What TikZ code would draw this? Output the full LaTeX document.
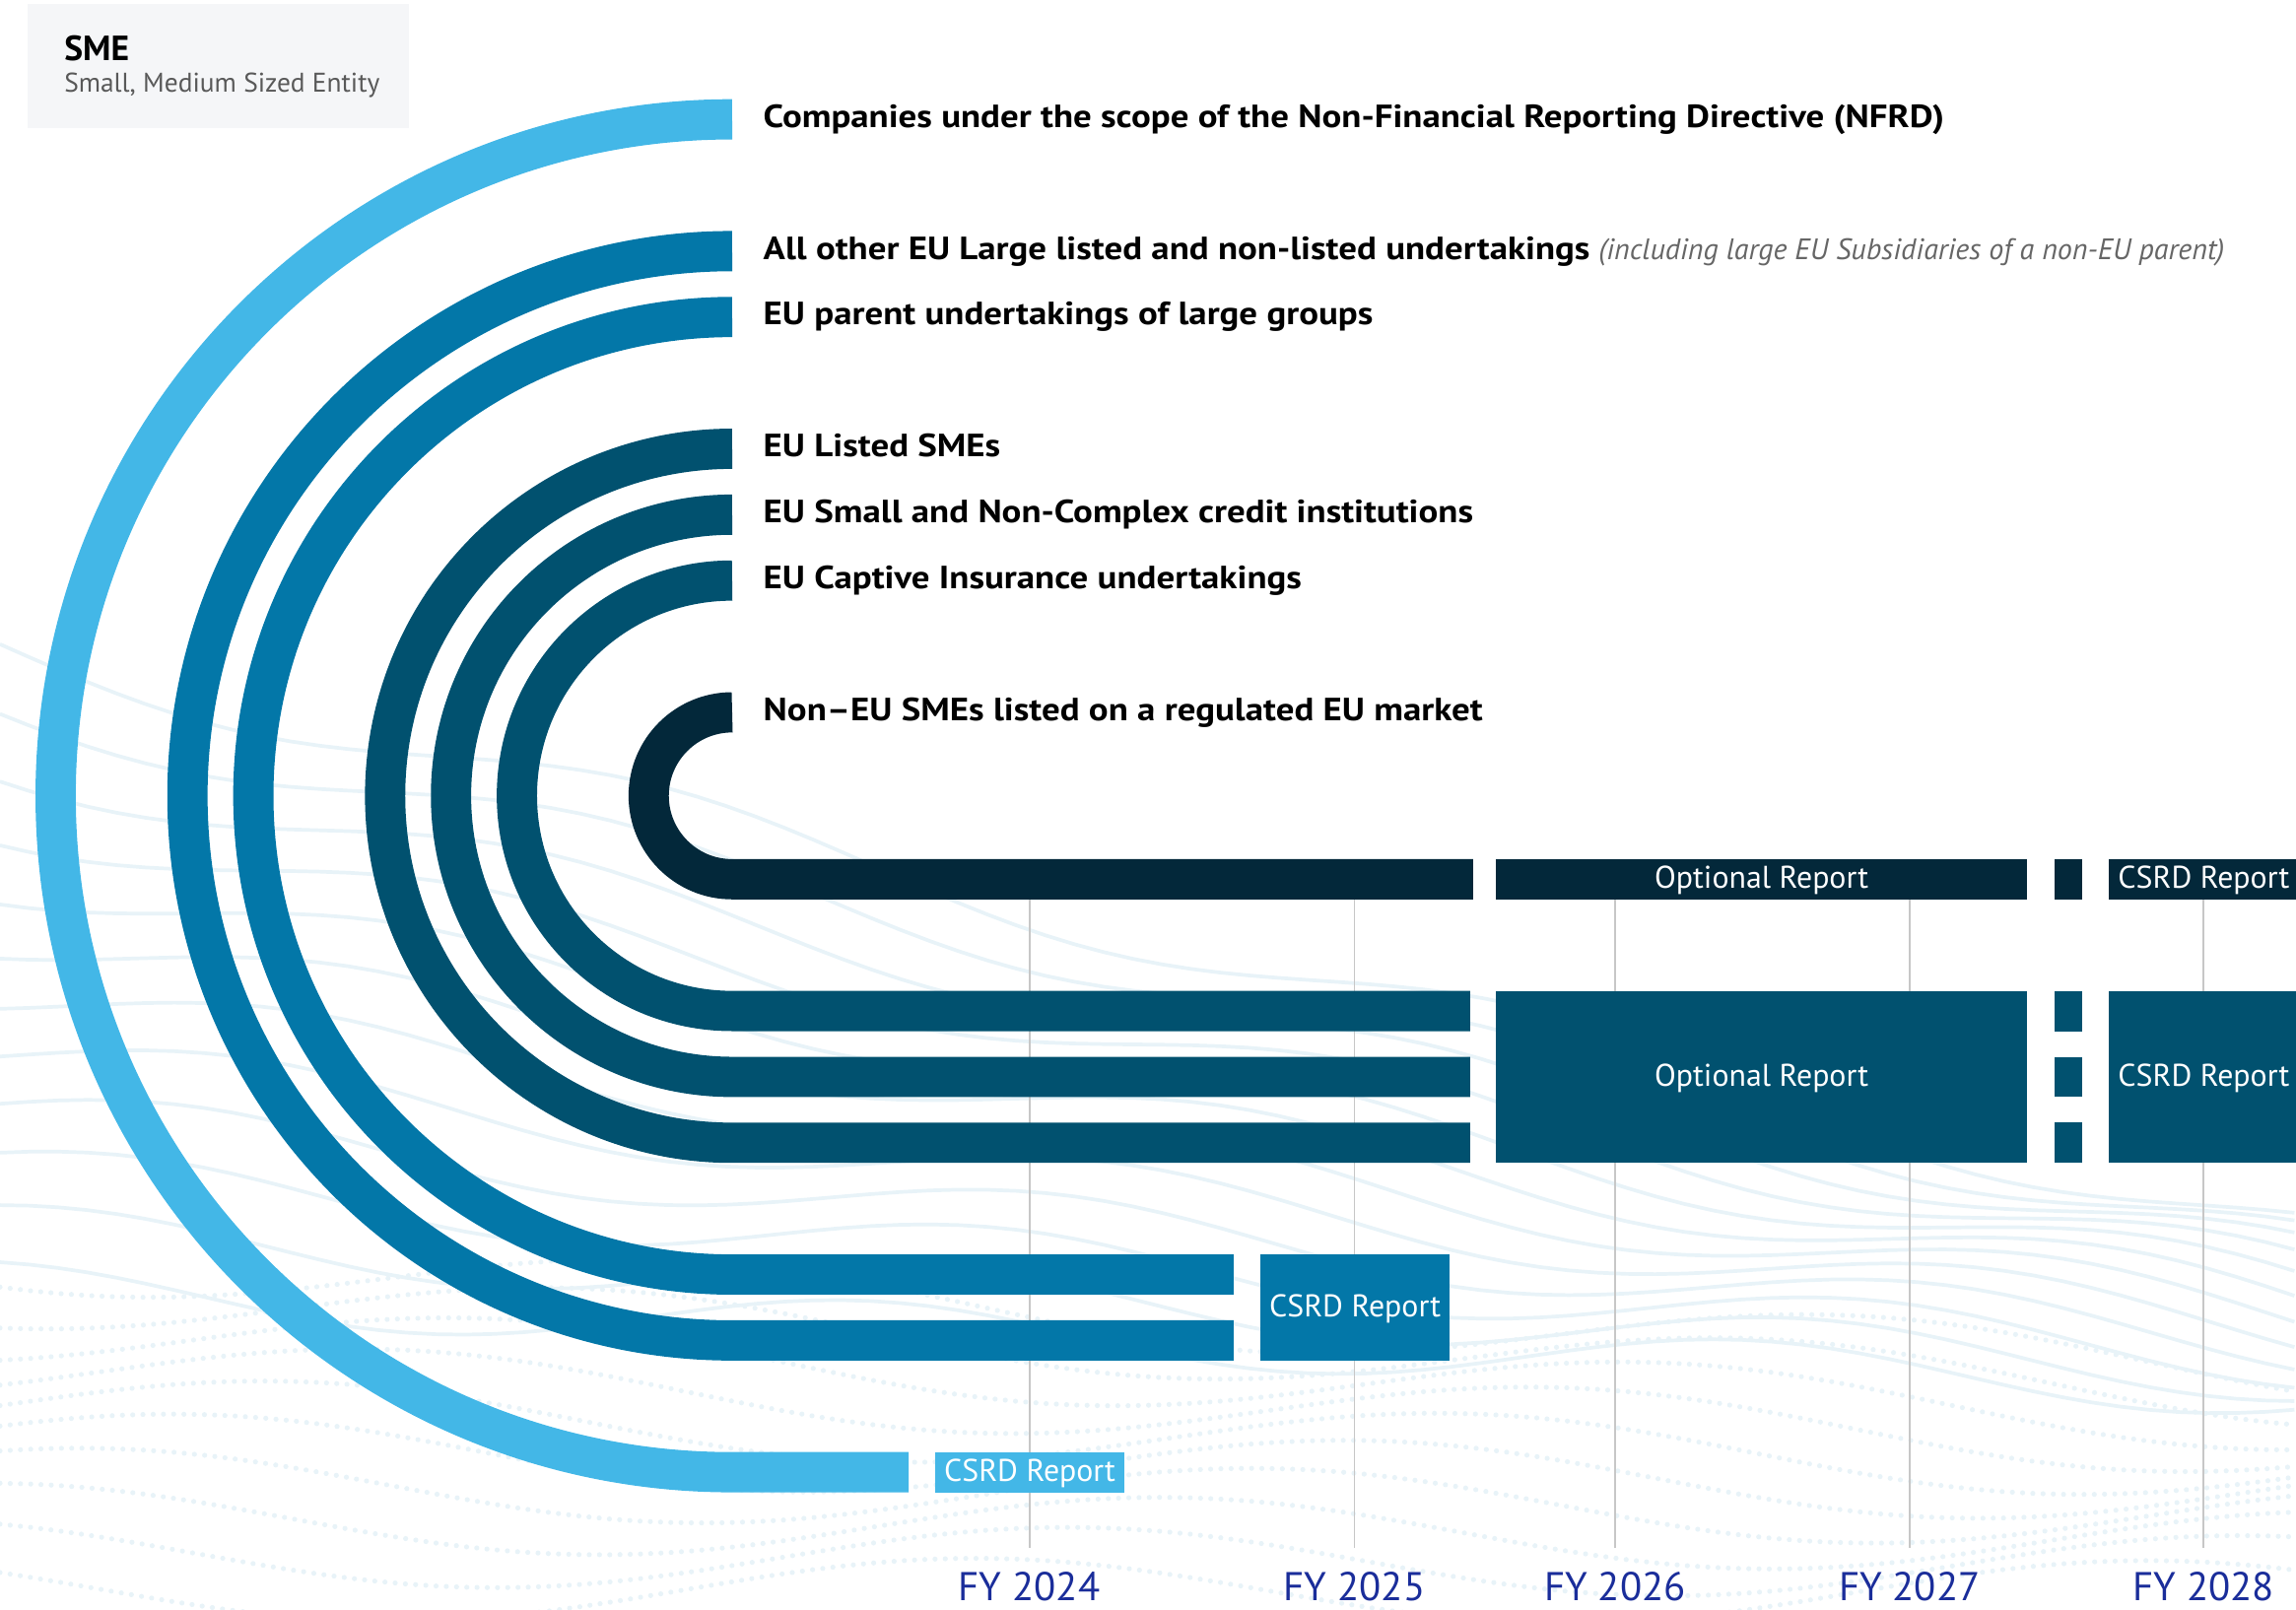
\documentclass[tikz,border=0pt]{standalone}
\usepackage{fontspec}
\setmainfont{PT Sans}
\newfontfamily\namefont[FakeStretch=1.13, Ligatures=TeX]{PT Sans}
\usepackage{tikz}
\usepackage{xcolor}
\usetikzlibrary{positioning}

\definecolor{nfrdblue}{HTML}{43B7E7}
\definecolor{largeblue}{HTML}{0377A8}
\definecolor{smeteal}{HTML}{01516F}
\definecolor{noneudark}{HTML}{03283A}
\definecolor{fyblue}{HTML}{1A2D9A}
\definecolor{wavecol}{HTML}{E8F3F8}
\definecolor{smegray}{HTML}{F5F6F8}

\tikzset{
  band/.style={line width=0.55cm},
  wave/.style={draw=wavecol, line width=0.05cm},
  dotwave/.style={draw=wavecol, line width=0.07cm, line cap=round, dash pattern=on 0pt off 0.14cm},
  yearline/.style={draw=black!22, line width=0.025cm},
  groupname/.style={anchor=base west, inner sep=0pt, font=\namefont\fontsize{12.5}{14}\selectfont\bfseries},
  groupnote/.style={anchor=base west, inner sep=0pt, text=black!60, font=\fontsize{11.5}{13}\selectfont\itshape},
  reportbox/.style={inner sep=0pt, text=white, text height=1.4ex, text depth=0pt,
                    font=\fontsize{12.2}{13}\selectfont, minimum height=0.55cm},
  stub/.style={inner sep=0pt, minimum width=0.38cm, minimum height=0.55cm},
  yearlabel/.style={anchor=base, inner sep=0pt, text=fyblue, font=\fontsize{15.6}{17}\selectfont}
}

\begin{document}
\begin{tikzpicture}[x=0.02cm, y=-0.02cm]
  \useasboundingbox (0,0) rectangle (1568,1099);
  \clip (0,0) rectangle (1568,1099);

  % Background waves
  \foreach \i in {0,...,11} {
    \draw[wave] plot[domain=0:1, samples=80]
      ({1568*\x}, {(440+40*\i)*(1-\x) + (840+10*\i)*\x + 18*sin(940*\x+25*\i)});
  }
  \foreach \i in {0,...,9} {
    \draw[dotwave] plot[domain=0:1, samples=80]
      ({1568*\x}, {(860+25*\i)*(1-\x) + (935+17*\i)*\x + 22*sin(705*\x+30*\i+60)});
  }

  % Legend box
  \fill[smegray] (19,3) rectangle (279,87.5);
  \node[anchor=base west, inner sep=0pt, font=\fontsize{13.6}{15}\selectfont\bfseries] (sme) at (43.6,41.5) {SME};
  \node[anchor=base west, inner sep=0pt, text=black!65, font=\fontsize{10.5}{12}\selectfont] (smefull) at (43.6,62.8) {Small, Medium Sized Entity};

  % Year lines
  \foreach \xx/\yr in {703/2024, 925/2025, 1103/2026, 1304/2027, 1505/2028} {
    \draw[yearline] (\xx,587) -- (\xx,1057);
    \node[yearlabel] (fy\yr) at (\xx,1093.5) {FY \yr};
  }

  % Centre of the arcs
  \coordinate (c) at (500,543.5);

  % NFRD companies
  \draw[band, nfrdblue] (500,81.5) arc[start angle=270, end angle=90, radius=462] -- (620.5,1005.5);
  % large undertakings
  \draw[band, largeblue] (500,171.5) arc[start angle=270, end angle=90, radius=372] -- (842.5,915.5);
  \draw[band, largeblue] (500,216.5) arc[start angle=270, end angle=90, radius=327] -- (842.5,870.5);
  % listed SMEs, credit institutions, captive insurance
  \draw[band, smeteal] (500,306.5) arc[start angle=270, end angle=90, radius=237] -- (1004,780.5);
  \draw[band, smeteal] (500,351.5) arc[start angle=270, end angle=90, radius=192] -- (1004,735.5);
  \draw[band, smeteal] (500,396.5) arc[start angle=270, end angle=90, radius=147] -- (1004,690.5);
  % non-EU SMEs
  \draw[band, noneudark] (500,486.5) arc[start angle=270, end angle=90, radius=57] -- (1006,600.5);

  % Report boxes
  \node[reportbox, fill=nfrdblue, minimum width=2.59cm] (csrdnfrd) at (703.3,1005.5) {CSRD Report};
  \node[reportbox, fill=largeblue, minimum width=2.59cm, minimum height=1.45cm] (csrdlarge) at (925.4,893) {CSRD Report};
  \node[reportbox, fill=smeteal, minimum width=7.26cm, minimum height=2.35cm] (optsme) at (1203,735.5) {Optional Report};
  \node[reportbox, fill=smeteal, minimum width=2.6cm, minimum height=2.35cm] (csrdsme) at (1505,735.5) {CSRD Report};
  \node[reportbox, fill=noneudark, minimum width=7.26cm] (optnoneu) at (1203,600.5) {Optional Report};
  \node[reportbox, fill=noneudark, minimum width=2.6cm] (csrdnoneu) at (1505,600.5) {CSRD Report};
  % stubs in the gap
  \node[stub, fill=noneudark] (gapnoneu) at (1412.5,600.5) {};
  \foreach \yy/\nm in {690.5/a, 735.5/b, 780.5/c} {
    \node[stub, fill=smeteal] (gapsme\nm) at (1412.5,\yy) {};
  }

  % Group names
  \node[groupname] (nfrd) at (521,87) {Companies under the scope of the Non-Financial Reporting Directive (NFRD)};
  \node[groupname] (large) at (521,177) {All other EU Large listed and non-listed undertakings};
  \node[groupnote] (largenote) at ([xshift=3pt]large.base east) {(including large EU Subsidiaries of a non-EU parent)};
  \node[groupname] (parent) at (521,222) {EU parent undertakings of large groups};
  \node[groupname] (listed) at (521,312) {EU Listed SMEs};
  \node[groupname] (credit) at (521,357) {EU Small and Non-Complex credit institutions};
  \node[groupname] (captive) at (521,402) {EU Captive Insurance undertakings};
  \node[groupname] (noneu) at (521,492) {Non–EU SMEs listed on a regulated EU market};
\end{tikzpicture}
\end{document}
